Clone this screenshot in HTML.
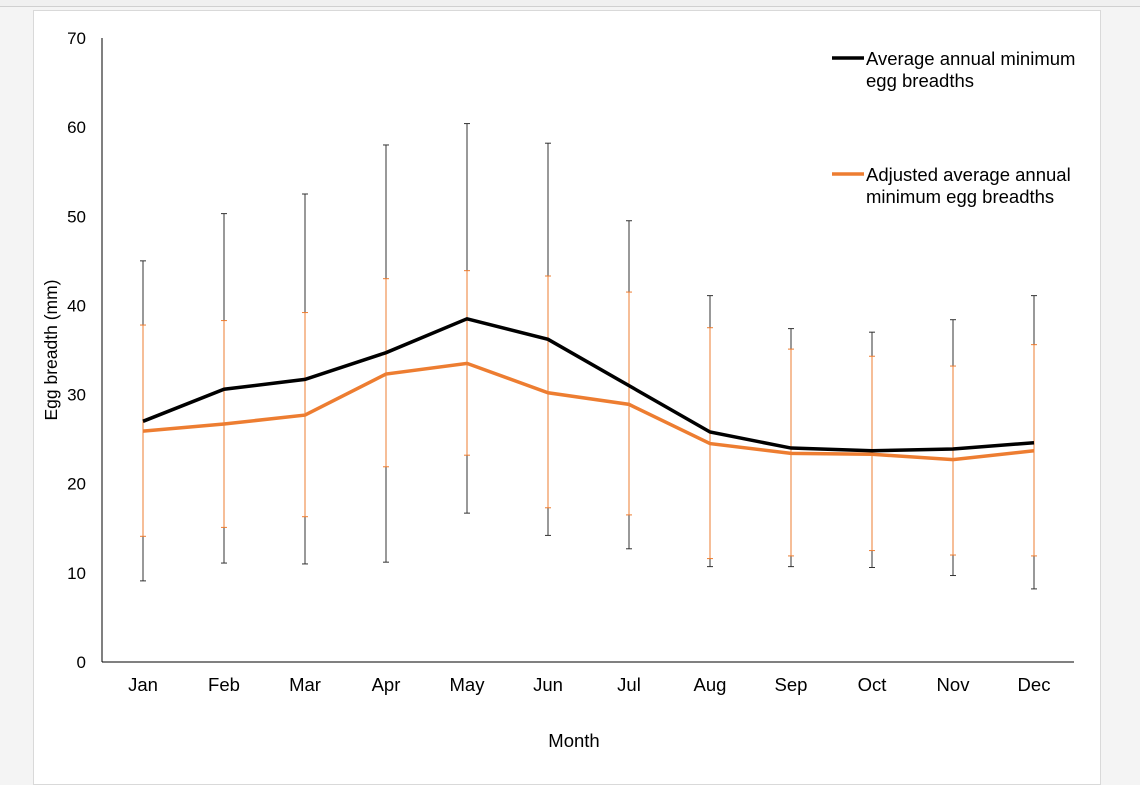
<!DOCTYPE html>
<html><head><meta charset="utf-8"><style>
body{margin:0;width:1140px;height:785px;background:#f4f4f4;overflow:hidden;font-family:"Liberation Sans",sans-serif}
#frame{position:absolute;left:0;top:0;width:1140px;height:6px;border-bottom:1px solid #d0d0d0;background:#f0f0f0}
#chart{position:absolute;left:33px;top:10px;width:1066px;height:773px;background:#fff;border:1px solid #d9d9d9}
</style></head><body>
<div id="frame"></div>
<div id="chart"></div>
<svg id="svg" width="1140" height="785" style="position:absolute;left:0;top:0"></svg>
<script>
const months=["Jan","Feb","Mar","Apr","May","Jun","Jul","Aug","Sep","Oct","Nov","Dec"];
const avgMin=[27.0,30.6,31.7,34.7,38.5,36.2,31.0,25.8,24.0,23.7,23.9,24.6];
const avgLow=[9.1,11.1,11.0,11.2,16.7,14.2,12.7,10.7,10.7,10.6,9.7,8.2];
const avgHigh=[45.0,50.3,52.5,58.0,60.4,58.2,49.5,41.1,37.4,37.0,38.4,41.1];
const adjMin=[25.9,26.7,27.7,32.3,33.5,30.2,28.9,24.5,23.4,23.3,22.7,23.7];
const adjLow=[14.1,15.1,16.3,21.9,23.2,17.3,16.5,11.6,11.9,12.5,12.0,11.9];
const adjHigh=[37.8,38.3,39.2,43.0,43.9,43.3,41.5,37.5,35.1,34.3,33.2,35.6];
const yTicks=[0,10,20,30,40,50,60,70];
const NS="http://www.w3.org/2000/svg",svg=document.getElementById('svg');
const y=v=>662-v*(624/70), x=i=>143+i*81;
function mk(t,a,txt){const e=document.createElementNS(NS,t);for(const k in a)e.setAttribute(k,a[k]);if(txt!=null)e.textContent=txt;svg.appendChild(e);return e;}
let e;
e=mk('line',{x1:102,y1:38,x2:102,y2:662,stroke:'#000','stroke-width':1});


e=mk('line',{x1:102,y1:662,x2:1074,y2:662,stroke:'#000','stroke-width':1});


yTicks.forEach(v=>{e=mk('text',{x:86,y:y(v)+6,'text-anchor':'end','font-size':17,fill:'#000'},v);

});
months.forEach((m,i)=>{e=mk('text',{x:x(i),y:691,'text-anchor':'middle','font-size':18.5},m);

});
e=mk('text',{x:574,y:747,'text-anchor':'middle','font-size':18.5},'Month');


e=mk('text',{x:0,y:0,'text-anchor':'middle','font-size':17.5,transform:'translate(57,350) rotate(-90)'},'Egg breadth (mm)');


function bars(lo,hi,col,name){lo.forEach((l,i)=>{const g=mk('g',{stroke:col,'stroke-width':1});


[[x(i),y(l),x(i),y(hi[i])],[x(i)-3,y(l),x(i)+3,y(l)],[x(i)-3,y(hi[i]),x(i)+3,y(hi[i])]].forEach(c=>{const ln=document.createElementNS(NS,'line');ln.setAttribute('x1',c[0]);ln.setAttribute('y1',c[1]);ln.setAttribute('x2',c[2]);ln.setAttribute('y2',c[3]);g.appendChild(ln);});});}
bars(avgLow,avgHigh,'#333','error-bar-average');
bars(adjLow,adjHigh,'#ed7d31','error-bar-adjusted');
e=mk('polyline',{points:avgMin.map((v,i)=>x(i)+','+y(v)).join(' '),fill:'none',stroke:'#000','stroke-width':3.5});


e=mk('polyline',{points:adjMin.map((v,i)=>x(i)+','+y(v)).join(' '),fill:'none',stroke:'#ed7d31','stroke-width':3.5});


function leg(yy,col,l1,l2,name){const g=mk('g',{});


const ln=mk('line',{x1:832,y1:yy,x2:864,y2:yy,stroke:col,'stroke-width':3.5});g.appendChild(ln);
const t1=mk('text',{x:866,y:yy+7,'font-size':18.5},l1);g.appendChild(t1);
const t2=mk('text',{x:866,y:yy+29,'font-size':18.5},l2);g.appendChild(t2);}
leg(58,'#000','Average annual minimum','egg breadths','legend-entry-average');
leg(174,'#ed7d31','Adjusted average annual','minimum egg breadths','legend-entry-adjusted');
</script>
</body></html>
